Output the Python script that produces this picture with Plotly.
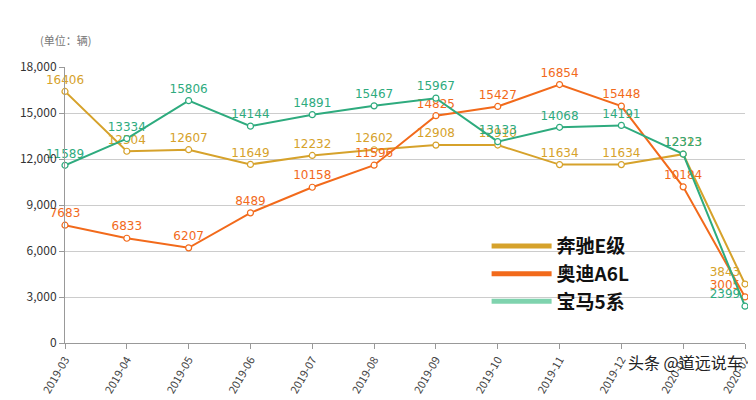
import plotly.graph_objects as go

months = ["2019-03","2019-04","2019-05","2019-06","2019-07","2019-08","2019-09","2019-10","2019-11","2019-12","2020-01","2020-02"]
benz = [16406,12504,12607,11649,12232,12602,12908,12910,11634,11634,12313,3843]
audi = [7683,6833,6207,8489,10158,11596,14825,15427,16854,15448,10184,3005]
bmw = [11589,13334,15806,14144,14891,15467,15967,13133,14068,14191,12323,2399]
names = ["奔驰E级","奥迪A6L","宝马5系"]
colors = ["#D6A22B","#F26A1B","#2EAB7E"]
legend_colors = ["#D6A22B","#F26A1B","#7FD3AE"]

positions = ["top center"] * 11 + ["top left"]
fig = go.Figure()
for n, y, c in zip(names, [benz, audi, bmw], colors):
    fig.add_trace(go.Scatter(x=months, y=y, name=n, mode="lines+markers+text", showlegend=False,
        line=dict(color=c, width=2), marker=dict(size=6, color="white", line=dict(color=c, width=1.2)),
        text=[str(v) for v in y], textposition=positions, cliponaxis=False,
        textfont=dict(color=c, size=12, family="DejaVu Sans")))
for n, c in zip(names, legend_colors):
    fig.add_trace(go.Scatter(x=[None], y=[None], name="<b>" + n + "</b>", mode="lines",
                             line=dict(color=c, width=5)))

fig.update_layout(
    width=756, height=400, margin=dict(l=48, r=18, t=59, b=60),
    plot_bgcolor="white", paper_bgcolor="white",
    font=dict(family="Noto Sans CJK SC", color="#333"),
    legend=dict(x=0.62, y=0.42, xanchor="left", yanchor="top", bgcolor="rgba(0,0,0,0)",
                font=dict(size=19, color="#111", family="Noto Sans CJK SC"), itemwidth=60,
                tracegroupgap=8),
    xaxis=dict(type="category", tickangle=-60, showgrid=False, showline=True, linecolor="#999",
               ticks="outside", tickcolor="#999", tickfont=dict(size=11, color="#444"), range=[0, 11]),
    yaxis=dict(range=[0, 18000], tickvals=[0,3000,6000,9000,12000,15000,18000], tickformat=",",
               gridcolor="#ccc", showline=True, linecolor="#999", ticks="outside", tickcolor="#999",
               tickfont=dict(size=12, color="#333")),
    annotations=[
        dict(text="(单位：辆)", x=0, y=1.06, xref="paper", yref="paper", xanchor="center", yanchor="bottom",
             showarrow=False, font=dict(size=11, color="#777")),
        dict(text="头条 @道远说车", x=1.0, y=-0.12, xref="paper", yref="paper", xanchor="right",
             showarrow=False, font=dict(size=16, color="#222")),
    ])
fig.write_html("out.html")
